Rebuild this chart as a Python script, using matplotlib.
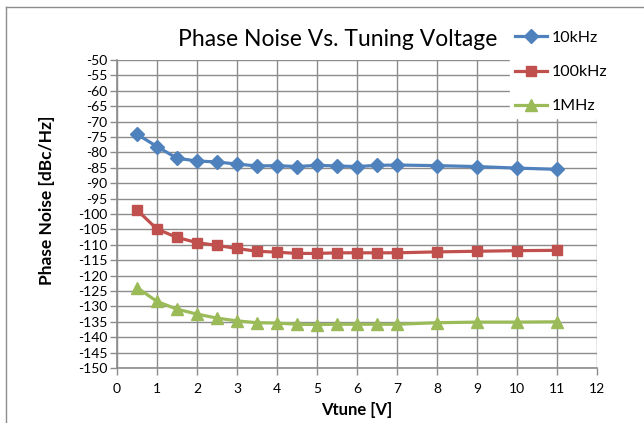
import matplotlib.pyplot as plt
import matplotlib.lines as mlines

vtune = [0.5, 1, 1.5, 2, 2.5, 3, 3.5, 4, 4.5, 5, 5.5, 6, 6.5, 7, 8, 9, 10, 11]
pn_10khz = [-74.1, -78.1, -81.9, -82.8, -83.1, -83.8, -84.4, -84.3, -84.6, -84.2,
            -84.4, -84.6, -84.2, -84.1, -84.3, -84.6, -85.1, -85.5]
pn_100khz = [-98.7, -104.9, -107.6, -109.3, -110.2, -111.2, -112.1, -112.4, -112.8, -112.8,
             -112.6, -112.6, -112.6, -112.6, -112.3, -112.1, -111.9, -111.8]
pn_1mhz = [-123.9, -128.4, -130.9, -132.5, -133.8, -134.7, -135.3, -135.4, -135.8, -135.9,
           -135.8, -135.8, -135.8, -135.8, -135.3, -135.1, -135.1, -135.0]

series = [('10kHz', pn_10khz, '#4F81BD', 'D', 7),
          ('100kHz', pn_100khz, '#C0504D', 's', 7.5),
          ('1MHz', pn_1mhz, '#9BBB59', '^', 8)]

plt.rcParams['font.family'] = ['Lato', 'DejaVu Sans']
plt.rcParams['axes.unicode_minus'] = False

fig = plt.figure(figsize=(6.44, 4.23), dpi=100)
ax = fig.add_axes([117 / 644, 1 - 368 / 423, 480 / 644, 308 / 423])

for name, vals, col, mk, ms in series:
    ax.plot(vtune, vals, color=col, lw=2.3, marker=mk, ms=ms, label=name, zorder=3)

ax.set_xlim(0, 12)
ax.set_ylim(-150, -50)
ax.set_xticks(range(0, 13))
ax.set_yticks(range(-150, -49, 5))
ax.grid(True, color='#8c8c8c', lw=1)
ax.set_axisbelow(True)
for s in ['top', 'right']:
    ax.spines[s].set_visible(False)
for s in ['left', 'bottom']:
    ax.spines[s].set_color('#8c8c8c')
    ax.spines[s].set_linewidth(1.2)
ax.tick_params(axis='both', color='#8c8c8c', length=5, width=1, labelsize=10, pad=2)
ax.tick_params(axis='x', pad=6)

ax.set_xlabel('Vtune [V]', fontsize=12, fontweight='bold', labelpad=5)
ax.set_ylabel('Phase Noise [dBc/Hz]', fontsize=12.5, fontweight='bold')
ax.yaxis.set_label_coords(-0.13, 0.545)

fig.text(338 / 644, 1 - 40 / 423, 'Phase Noise Vs. Tuning Voltage', fontsize=16.5,
         ha='center', va='center')

leg = fig.legend(loc='upper left', bbox_to_anchor=(510 / 644, 1 - 26 / 423),
                 frameon=True, fontsize=11.5, handlelength=2.0, labelspacing=1.25,
                 borderaxespad=0, handletextpad=0.3, borderpad=0.3)
leg.get_frame().set_edgecolor('white')
leg.get_frame().set_facecolor('white')
leg.get_frame().set_alpha(1)
leg.get_frame().set_boxstyle('square', pad=0)

# outer chart border (only left and top visible in the crop)
fig.add_artist(mlines.Line2D([6 / 644, 6 / 644], [0, 1 - 7 / 423], color='#8c8c8c', lw=1))
fig.add_artist(mlines.Line2D([6 / 644, 1], [1 - 7 / 423, 1 - 7 / 423], color='#8c8c8c', lw=1))

fig.savefig('out.png', dpi=100)
